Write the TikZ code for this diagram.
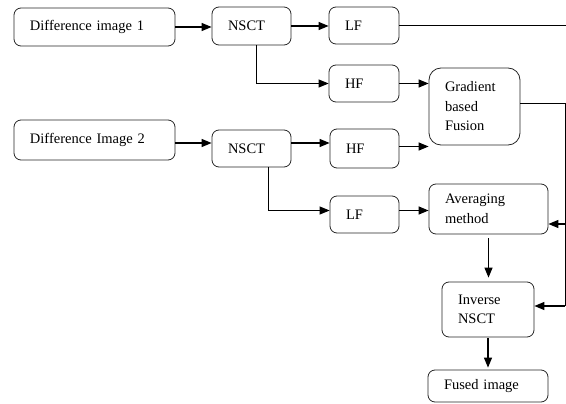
\documentclass[tikz,border=0pt]{standalone}
\usepackage{fontspec}
\setmainfont{Liberation Serif}
\usetikzlibrary{arrows.meta}
\begin{document}
\begin{tikzpicture}[x=1pt,y=-1pt,
 blk/.style={draw=black!85, rounded corners=7pt, line width=0.8pt, inner xsep=16pt, inner ysep=0pt, align=left, font=\fontsize{14.5}{19.5}\selectfont},
 arr/.style={line width=1.2pt, -{Triangle[length=10pt,width=8pt]}},
 thinarr/.style={line width=0.9pt, -{Triangle[length=10pt,width=8pt]}},
 ln/.style={line width=0.9pt}]
\useasboundingbox (0,0) rectangle (566,404);
\node[blk, text width=129pt, minimum height=38pt] (d1) at (94.5,27) {Difference image 1};
\node[blk, text width=47pt, minimum height=38pt] (n1) at (251.5,26) {NSCT};
\node[blk, text width=38pt, minimum height=37pt] (lf1) at (364,25.5) {LF};
\node[blk, text width=38pt, minimum height=37pt] (hf1) at (364,83.5) {HF};
\node[blk, rounded corners=12pt, text width=59pt, minimum height=77pt] (gr) at (474.5,106.5) {Gradient\\based\\Fusion};
\node[blk, text width=129pt, minimum height=40pt] (d2) at (94.5,140) {Difference Image 2};
\node[blk, text width=47pt, minimum height=37pt] (n2) at (251.5,148.5) {NSCT};
\node[blk, text width=37pt, minimum height=39pt] (hf2) at (364.5,148.5) {HF};
\node[blk, text width=37pt, minimum height=37pt] (lf2) at (364.5,214.5) {LF};
\node[blk, text width=87pt, minimum height=50pt] (av) at (488.5,209) {Averaging\\method};
\node[blk, text width=60pt, minimum height=55pt] (in) at (488,309.5) {Inverse\\NSCT};
\node[blk, text width=88pt, minimum height=32pt] (fu) at (488,386) {Fused image};
% top row
\coordinate (e1) at (566,25.5);
\draw[arr] (d1.east) -- (d1.east -| n1.west);
\draw[arr] (n1.east) -- (n1.east -| lf1.west);
\draw[ln] (lf1.east) -- (e1);
\coordinate (b1) at (256,0);
\draw[thinarr] (n1.south -| b1) |- (hf1.west);
\draw[arr] (hf1.east) -- (hf1.east -| gr.west);
% second image
\draw[arr] ([yshift=-3pt]d2.east) -- ([yshift=-3pt]d2.east -| n2.west);
\draw[arr] ([yshift=5.5pt]n2.east) -- ([yshift=5.5pt]n2.east -| hf2.west);
\draw[arr] ([yshift=2pt]hf2.east) -- ([yshift=2pt]hf2.east -| gr.west);
\coordinate (b2) at (268,0);
\draw[thinarr] (n2.south -| b2) |- ([yshift=4pt]lf2.west);
\draw[arr] ([yshift=4pt]lf2.east) -- ([yshift=4pt]lf2.east -| av.west);
% right side
\coordinate (r1) at (565,103);
\coordinate (r2) at (565,224);
\coordinate (r3) at (565,306);
\draw[ln] (gr.east |- r1) -- (r1) -- (r3);
\draw[arr] (r2) -- (r2 -| av.east);
\draw[arr] (r3) -- (r3 -| in.east);
\draw[arr, shorten <=4pt, shorten >=4pt] (av.south) -- (av.south |- in.north);
\draw[arr, shorten <=1pt, shorten >=2pt] (in.south) -- (in.south |- fu.north);
\end{tikzpicture}
\end{document}
